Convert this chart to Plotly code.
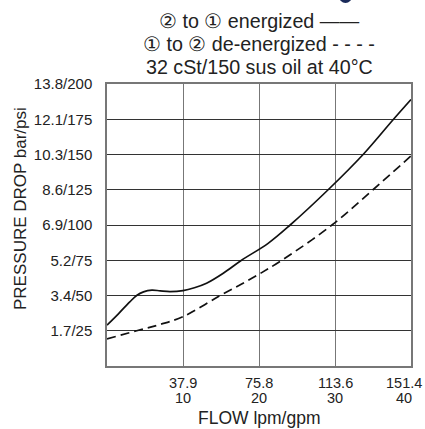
import plotly.graph_objects as go

# ---- data ----
solid_x = [0, 1.5, 3.0, 3.9, 4.8, 5.9, 7.0, 8.3, 10, 11.5, 13.1, 15.3, 17.7, 21.2, 24.1, 29.1, 33.7, 37.7, 40]
solid_y = [29, 37, 45.5, 50.0, 52.6, 53.8, 53.3, 52.8, 53.5, 55.5, 58.7, 65.8, 75, 87, 100, 125, 150, 175, 189]
dashed_x = [0, 3.9, 7, 10, 14.9, 19, 23, 29.6, 35, 40]
dashed_y = [19.2, 25, 29.5, 35, 50, 62, 75, 100, 125, 149]

x_tick_vals = [10, 20, 30, 40]
x_tick_lpm = ["37.9", "75.8", "113.6", "151.4"]
x_tick_gpm = ["10", "20", "30", "40"]
y_tick_vals = [25, 50, 75, 100, 125, 150, 175, 200]
y_tick_text = ["1.7/25", "3.4/50", "5.2/75", "6.9/100", "8.6/125", "10.3/150", "12.1/175", "13.8/200"]

title_lines = ["② to ① energized ——", "① to ② de-energized - - - -", "32 cSt/150 sus oil at 40°C"]
x_title = "FLOW lpm/gpm"
y_title = "PRESSURE DROP bar/psi"

FONT = "Liberation Sans, Arial, Helvetica, sans-serif"

fig = go.Figure()
fig.add_trace(go.Scatter(x=solid_x, y=solid_y, mode="lines",
                         line=dict(color="#111", width=1.7, shape="spline", smoothing=1.0),
                         showlegend=False))
fig.add_trace(go.Scatter(x=dashed_x, y=dashed_y, mode="lines",
                         line=dict(color="#111", width=1.7, dash="9px,5px", shape="spline", smoothing=1.0),
                         showlegend=False))

W, H = 425, 429
# desired plot area in screen pixels
L, R, T, B = 107, 411, 84, 366
ml, mt = L, T
mr, mb = W - R, H - B
pw, ph = R - L, B - T

def py(ypix):
    return (B - ypix) / ph

def px(xpix):
    return (xpix - L) / pw

ann = []
for t, yc in zip(title_lines, [21, 43.5, 66.5]):
    ann.append(dict(text=t, xref="paper", yref="paper", x=0.5, y=py(yc),
                    xanchor="center", yanchor="middle", showarrow=False,
                    font=dict(family=FONT, size=19.7, color="#222")))
for v, a, b in zip(x_tick_vals, x_tick_lpm, x_tick_gpm):
    shift = -7 if v == 40 else 0
    ann.append(dict(text=a, xref="x", yref="paper", x=v, y=py(382.5), xshift=shift,
                    xanchor="center", yanchor="middle", showarrow=False, borderpad=0,
                    font=dict(family=FONT, size=14.5, color="#222")))
    ann.append(dict(text=b, xref="x", yref="paper", x=v, y=py(398), xshift=shift,
                    xanchor="center", yanchor="middle", showarrow=False, borderpad=0,
                    font=dict(family=FONT, size=14.5, color="#222")))
ann.append(dict(text=x_title, xref="paper", yref="paper", x=0.5, y=py(429),
                xanchor="center", yanchor="bottom", showarrow=False, borderpad=0,
                font=dict(family=FONT, size=17.5, color="#222")))
ann.append(dict(text=y_title, xref="paper", yref="paper", x=px(20), y=py(209),
                xanchor="center", yanchor="middle", showarrow=False, textangle=-90,
                font=dict(family=FONT, size=17, color="#222")))

fig.update_layout(
    width=W, height=H,
    margin=dict(l=ml, r=mr, t=mt, b=mb),
    paper_bgcolor="white", plot_bgcolor="white",
    annotations=ann,
    shapes=[dict(type="circle", xref="paper", yref="paper",
                 x0=px(339), x1=px(352), y0=py(3), y1=py(-10),
                 fillcolor="#1a2a5a", line=dict(width=0), layer="above")],
    xaxis=dict(range=[0, 40], tickvals=x_tick_vals, showticklabels=False,
               showgrid=True, gridcolor="#777", gridwidth=1,
               showline=True, linecolor="#777", linewidth=1.5, mirror=True,
               zeroline=False, fixedrange=True),
    yaxis=dict(range=[0, 200], tickvals=y_tick_vals, ticktext=y_tick_text,
               showgrid=True, gridcolor="#333", gridwidth=1,
               showline=True, linecolor="#777", linewidth=1.5, mirror=True,
               zeroline=False, ticks="", ticklabelstandoff=10,
               tickfont=dict(family=FONT, size=15, color="#222"), fixedrange=True),
)

fig.write_html("out.html", config={"displayModeBar": False},
               post_script="document.body.style.margin='0';document.body.style.overflow='hidden';")
